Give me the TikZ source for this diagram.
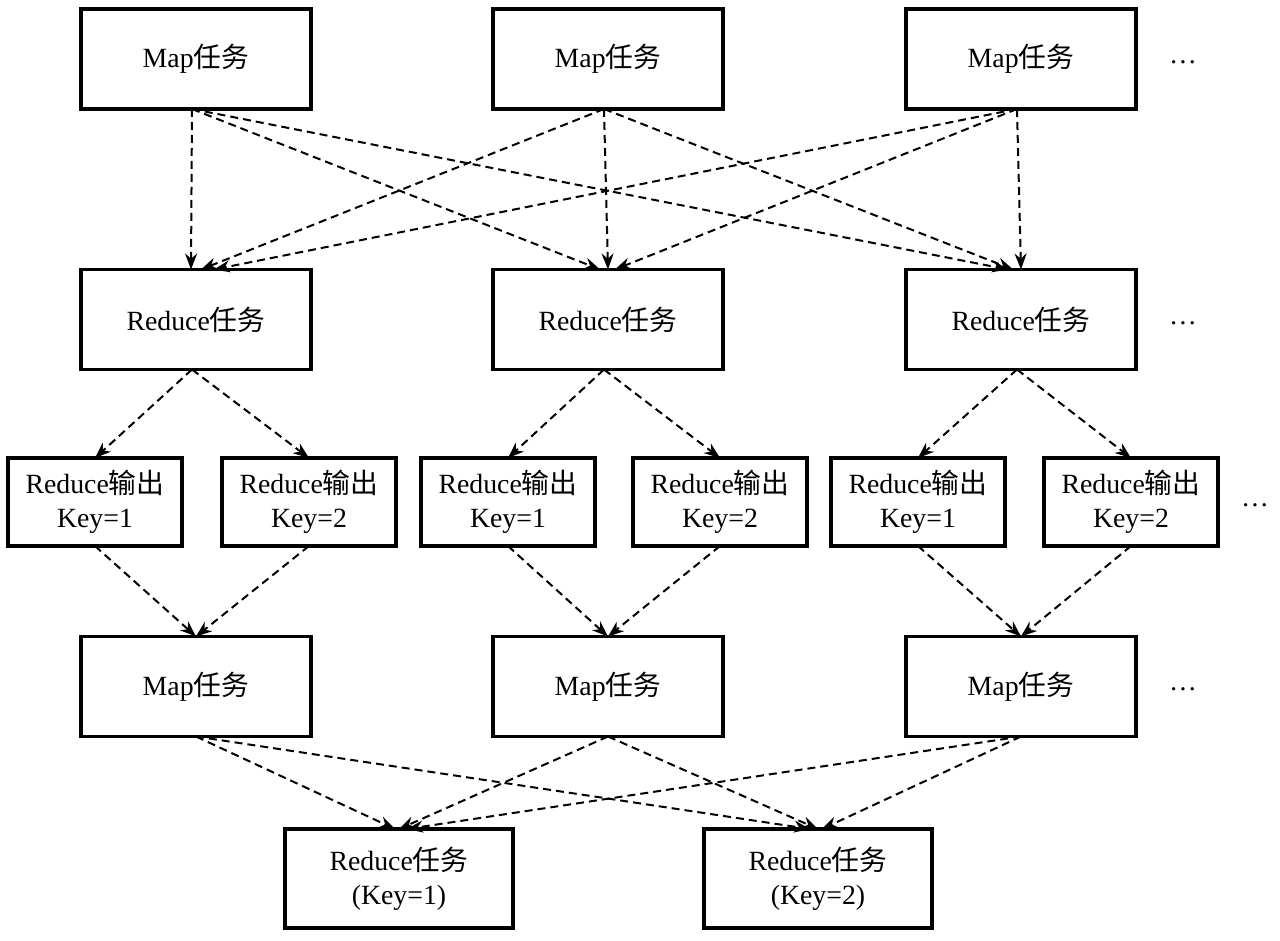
\documentclass[tikz,border=0pt]{standalone}
\usepackage{fontspec}
\setmainfont{Liberation Serif}
\newfontfamily\cjk{Noto Sans CJK SC}
\usetikzlibrary{arrows.meta}
\begin{document}
\begin{tikzpicture}[x=0.5pt,y=-0.5pt,
  box/.style={draw,line width=1.7pt,inner sep=0pt,outer sep=0pt,align=center,font=\fontsize{13.9}{17}\selectfont},
  big/.style={box,minimum width=115pt,minimum height=50pt},
  small/.style={box,minimum width=87pt,minimum height=44pt},
  fin/.style={box,minimum width=114pt,minimum height=49.5pt},
  link/.style={line width=1pt,dash pattern=on 4pt off 2.5pt,-{Stealth[length=8pt,width=6pt]}},
  dots/.style={font=\fontsize{13.9}{17}\selectfont,inner sep=0pt}]
\useasboundingbox (0,0) rectangle (1280,941);
% row 1
\node[big] (m1) at (196,59) {Map{\cjk 任务}};
\node[big] (m2) at (608,59) {Map{\cjk 任务}};
\node[big] (m3) at (1021,59) {Map{\cjk 任务}};
\node[dots] (d1) at (1183,62) {\dots};
% row 2
\node[big] (r1) at (196,319.5) {Reduce{\cjk 任务}};
\node[big] (r2) at (608,319.5) {Reduce{\cjk 任务}};
\node[big] (r3) at (1021,319.5) {Reduce{\cjk 任务}};
\node[dots] (d2) at (1183,323) {\dots};
% row 3
\node[small] (o1) at (95,502) {Reduce{\cjk 输出}\\Key=1};
\node[small] (o2) at (309,502) {Reduce{\cjk 输出}\\Key=2};
\node[small] (o3) at (508,502) {Reduce{\cjk 输出}\\Key=1};
\node[small] (o4) at (720,502) {Reduce{\cjk 输出}\\Key=2};
\node[small] (o5) at (918,502) {Reduce{\cjk 输出}\\Key=1};
\node[small] (o6) at (1131,502) {Reduce{\cjk 输出}\\Key=2};
\node[dots] (d3) at (1255,505) {\dots};
% row 4
\node[big] (a1) at (196,686.5) {Map{\cjk 任务}};
\node[big] (a2) at (608,686.5) {Map{\cjk 任务}};
\node[big] (a3) at (1021,686.5) {Map{\cjk 任务}};
\node[dots] (d4) at (1183,689) {\dots};
% row 5
\node[fin] (f1) at (399,878.5) {Reduce{\cjk 任务}\\(Key=1)};
\node[fin] (f2) at (818,878.5) {Reduce{\cjk 任务}\\(Key=2)};
% row 1 -> row 2
\draw[link] ([xshift=-2pt]m1.south) -- ([xshift=-2.5pt]r1.north);
\draw[link] ([xshift=-2pt]m2.south) -- ([xshift=2.5pt]r1.north);
\draw[link] ([xshift=-2pt]m3.south) -- ([xshift=9pt]r1.north);
\draw[link] ([xshift=-2pt]m1.south) -- ([xshift=-4pt]r2.north);
\draw[link] ([xshift=-2pt]m2.south) -- (r2.north);
\draw[link] ([xshift=-2pt]m3.south) -- ([xshift=3.5pt]r2.north);
\draw[link] ([xshift=-2pt]m1.south) -- ([xshift=-6.5pt]r3.north);
\draw[link] ([xshift=-2pt]m2.south) -- ([xshift=-4pt]r3.north);
\draw[link] ([xshift=-2pt]m3.south) -- (r3.north);
% row 2 -> row 3
\draw[link] ([xshift=-2pt]r1.south) -- (o1.north);
\draw[link] ([xshift=-2pt]r1.south) -- (o2.north);
\draw[link] ([xshift=-2pt]r2.south) -- (o3.north);
\draw[link] ([xshift=-2pt]r2.south) -- (o4.north);
\draw[link] ([xshift=-2pt]r3.south) -- (o5.north);
\draw[link] ([xshift=-2pt]r3.south) -- (o6.north);
% row 3 -> row 4
\draw[link] (o1.south) -- (a1.north);
\draw[link] (o2.south) -- (a1.north);
\draw[link] (o3.south) -- (a2.north);
\draw[link] (o4.south) -- (a2.north);
\draw[link] (o5.south) -- (a3.north);
\draw[link] (o6.south) -- (a3.north);
% row 4 -> row 5
\draw[link] (a1.south) -- ([xshift=-2pt]f1.north);
\draw[link] (a2.south) -- (f1.north);
\draw[link] (a3.south) -- ([xshift=4pt]f1.north);
\draw[link] (a1.south) -- ([xshift=-4pt]f2.north);
\draw[link] (a2.south) -- (f2.north);
\draw[link] (a3.south) -- ([xshift=2pt]f2.north);
\end{tikzpicture}
\end{document}
